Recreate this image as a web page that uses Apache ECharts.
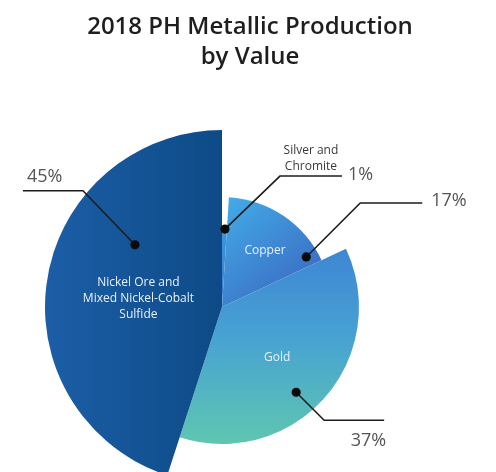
<!DOCTYPE html>
<html>
<head>
<meta charset="utf-8">
<script src="https://cdn.jsdelivr.net/npm/echarts@6/dist/echarts.min.js"></script>
<style>
  html, body { margin: 0; padding: 0; background: #ffffff; }
  #chart { width: 496px; height: 472px; }
</style>
</head>
<body>
<div id="chart"></div>
<script>
// Share of metallic production value, clockwise from 12 o'clock
const categories = ['Silver and Chromite', 'Copper', 'Gold', 'Nickel Ore and Mixed Nickel-Cobalt Sulfide'];
const shares = [1, 17, 37, 45];
const percentLabels = ['1%', '17%', '37%', '45%'];
const innerLabels = ['', 'Copper', 'Gold', 'Nickel Ore and\nMixed Nickel-Cobalt\nSulfide'];
const outerNames = ['Silver and\nChromite', '', '', ''];

// Visual layout
const CENTER = [222, 307];
const sliceRadius = [80, 110, 137, 177];
const fills = [
  { type: 'linear', x: 0, y: 0, x2: 0, y2: 1, colorStops: [{ offset: 0, color: '#3f97dc' }, { offset: 1, color: '#3a78c8' }] },
  { type: 'linear', x: 0.1, y: 0, x2: 0.9, y2: 0.85, colorStops: [{ offset: 0, color: '#43aae6' }, { offset: 1, color: '#3a6ac2' }] },
  { type: 'linear', x: 0, y: 0, x2: 0, y2: 1, colorStops: [{ offset: 0, color: '#3f86d4' }, { offset: 0.45, color: '#47a2d2' }, { offset: 1, color: '#5fc6b1' }] },
  { type: 'linear', x: 0, y: 0, x2: 1, y2: 0, colorStops: [{ offset: 0, color: '#1c5ea7' }, { offset: 1, color: '#0d4a86' }] }
];
// Callout placement: dot position within the slice, elbow offset and tail length
const dotRadius = [78, 98, 113, 107];
const dotFrac = [0.6, 0.91, 0.557, 0.664];
const elbowOffset = [[55, -53], [54, -54], [28, 28], [-52, -54]];
const tailLength = [62, 62, 60, -60];
const innerRadius = [0, 71, 75, 84];
const innerFrac = [0.5, 0.55, 0.51, 0.48];

const starts = [];
shares.reduce((acc, v, i) => { starts[i] = acc; return acc + v; }, 0);
const total = shares.reduce((a, b) => a + b, 0);

const pieSeries = shares.map((_, i) => ({
  type: 'pie',
  center: CENTER,
  radius: [0, sliceRadius[i]],
  startAngle: 90,
  clockwise: true,
  silent: true,
  animation: false,
  emphasis: { disabled: true },
  label: { show: false },
  labelLine: { show: false },
  itemStyle: { borderWidth: 0 },
  data: shares.map((v, j) => ({
    name: categories[j],
    value: v,
    itemStyle: { color: j === i ? fills[i] : 'rgba(0,0,0,0)', borderWidth: 0 }
  }))
}));

function renderCallout(params, api) {
  const i = params.dataIndex;
  const dot = api.coord([api.value(0), api.value(1)]);
  const elbow = [dot[0] + elbowOffset[i][0], dot[1] + elbowOffset[i][1]];
  const end = [elbow[0] + tailLength[i], elbow[1]];
  const children = [
    { type: 'polyline', shape: { points: [dot, elbow, end] }, style: { stroke: '#1c1c1c', lineWidth: 1.6, fill: null } },
    { type: 'circle', shape: { cx: dot[0], cy: dot[1], r: 4.6 }, style: { fill: '#0a0a0a' } }
  ];
  const pctFont = { fontSize: 18, fontFamily: '"Open Sans", sans-serif', fill: '#555555' };
  let pct;
  if (i === 0) pct = { x: end[0] + 6, y: end[1] - 1, align: 'left', verticalAlign: 'middle' };
  else if (i === 1) pct = { x: end[0] + 9, y: end[1] - 2, align: 'left', verticalAlign: 'middle' };
  else if (i === 2) pct = { x: end[0] + 2, y: end[1] + 21, align: 'right', verticalAlign: 'middle' };
  else pct = { x: end[0] + 4, y: end[1] - 14, align: 'left', verticalAlign: 'middle' };
  children.push({
    type: 'text', x: pct.x, y: pct.y,
    style: Object.assign({ text: percentLabels[i], align: pct.align, verticalAlign: pct.verticalAlign }, pctFont)
  });
  if (outerNames[i]) {
    children.push({
      type: 'text', x: elbow[0] + 31, y: elbow[1] - 17,
      style: { text: outerNames[i], align: 'center', verticalAlign: 'middle', fontSize: 12, lineHeight: 16, fontFamily: '"Open Sans", sans-serif', fill: '#3a3a3a' }
    });
  }
  if (innerLabels[i]) {
    const p = api.coord([innerRadius[i], starts[i] + innerFrac[i] * shares[i]]);
    children.push({
      type: 'text', x: p[0], y: p[1],
      style: { text: innerLabels[i], align: 'center', verticalAlign: 'middle', fontSize: 12, lineHeight: 16, fontFamily: '"Open Sans", sans-serif', fill: '#e8f1fa' }
    });
  }
  return { type: 'group', children };
}

const chart = echarts.init(document.getElementById('chart'), null, { renderer: 'canvas' });
chart.setOption({
  backgroundColor: '#ffffff',
  animation: false,
  title: {
    text: '2018 PH Metallic Production\nby Value',
    left: 245,
    top: 7,
    textAlign: 'center',
    textStyle: { fontSize: 24, fontWeight: 600, fontFamily: '"Open Sans", sans-serif', color: '#1e1e1e', lineHeight: 30 }
  },
  polar: { center: CENTER, radius: sliceRadius[3] },
  angleAxis: {
    type: 'value', min: 0, max: total, startAngle: 90, clockwise: true,
    axisLine: { show: false }, axisTick: { show: false }, axisLabel: { show: false }, splitLine: { show: false }
  },
  radiusAxis: {
    type: 'value', min: 0, max: sliceRadius[3],
    axisLine: { show: false }, axisTick: { show: false }, axisLabel: { show: false }, splitLine: { show: false }
  },
  series: pieSeries.concat([{
    type: 'custom',
    coordinateSystem: 'polar',
    silent: true,
    z: 10,
    clip: false,
    renderItem: renderCallout,
    data: shares.map((v, i) => [dotRadius[i], starts[i] + dotFrac[i] * v])
  }])
});
</script>
</body>
</html>
